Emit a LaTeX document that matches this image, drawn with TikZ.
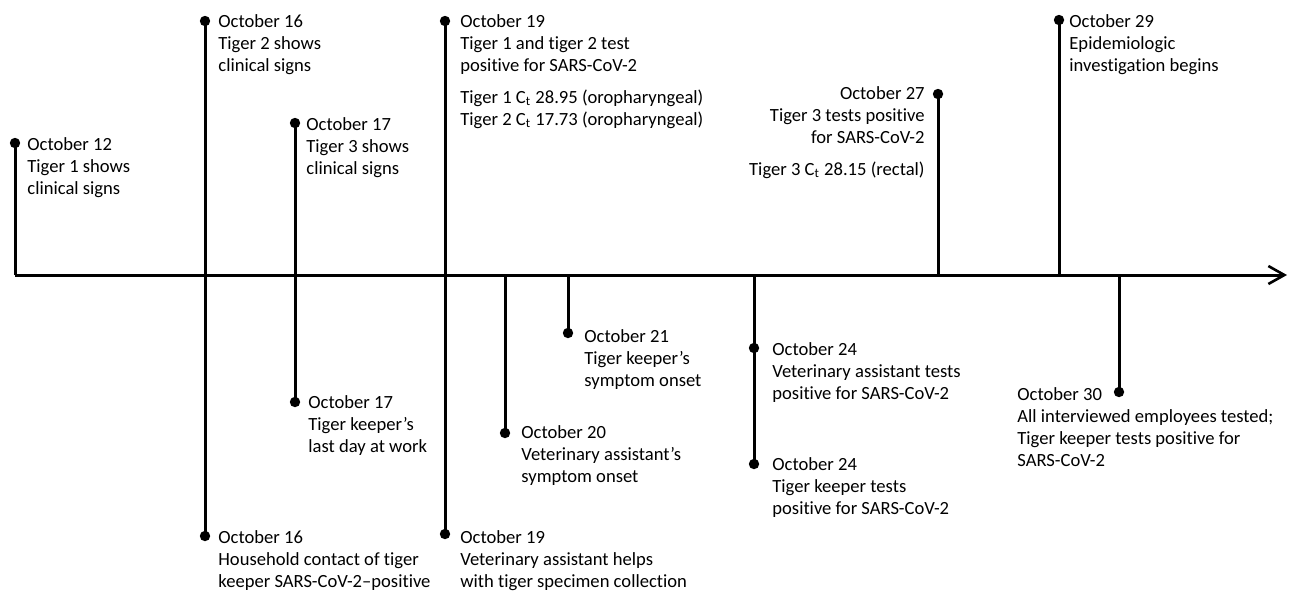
\documentclass[tikz,border=0pt]{standalone}
\usepackage{fontspec}
\setmainfont{Carlito}[Ligatures={NoCommon}]
\usetikzlibrary{arrows.meta}

\begin{document}
\begin{tikzpicture}[x=0.5pt, y=-0.5pt,
    stem/.style={line width=1.5pt, black},
    axis/.style={stem, -{Straight Barb[length=8pt, width=9pt, line width=1.3pt]}},
    dot/.style={circle, fill=black, inner sep=0pt, minimum size=5.2pt},
    evt/.style={align=left, inner sep=0pt, anchor=north west,
                font=\fontsize{9.3}{11}\selectfont},
    evtr/.style={evt, align=right, anchor=north east}
  ]
  \useasboundingbox (0,0) rectangle (1289,591);

  \coordinate (a0) at (15,275);
  \coordinate (aend) at (1287,275);
  \coordinate (a12) at (15,275);
  \coordinate (a20) at (505,275);
  \coordinate (a21) at (568,275);
  \coordinate (a24) at (754,275);
  \coordinate (a27) at (938,275);
  \coordinate (a29) at (1059,275);
  \coordinate (a30) at (1119,275);

  \node[dot] (d12)  at (15,143) {};
  \node[dot] (d16u) at (205,21) {};
  \node[dot] (d16d) at (205,536) {};
  \node[dot] (d17u) at (295,123) {};
  \node[dot] (d17d) at (295,402) {};
  \node[dot] (d19u) at (445,21) {};
  \node[dot] (d19d) at (445,534) {};
  \node[dot] (d20)  at (505,433) {};
  \node[dot] (d21)  at (568,333) {};
  \node[dot] (d24a) at (754,348) {};
  \node[dot] (d24b) at (754,464) {};
  \node[dot] (d27)  at (938,94) {};
  \node[dot] (d29)  at (1059,20) {};
  \node[dot] (d30)  at (1119,392) {};

  \draw[axis] (a0) -- (aend);
  \draw[stem] (a12) -- (d12.center);
  \draw[stem] (d16u.center) -- (d16d.center);
  \draw[stem] (d17u.center) -- (d17d.center);
  \draw[stem] (d19u.center) -- (d19d.center);
  \draw[stem] (a20) -- (d20.center);
  \draw[stem] (a21) -- (d21.center);
  \draw[stem] (a24) -- (d24b.center);
  \draw[stem] (a27) -- (d27.center);
  \draw[stem] (a29) -- (d29.center);
  \draw[stem] (a30) -- (d30.center);

  \node[evt] (t12) at (27,137) {October 12\\Tiger 1 shows\\clinical signs};
  \node[evt] (t16u) at (218,14) {October 16\\Tiger 2 shows\\clinical signs};
  \node[evt] (t17u) at (306,117) {October 17\\Tiger 3 shows\\clinical signs};
  \node[evt] (t19u) at (460,14) {October 19\\Tiger 1 and tiger 2 test\\positive for SARS-CoV-2\\[5pt]
    Tiger 1 C\textsubscript{t} 28.95 (oropharyngeal)\\
    Tiger 2 C\textsubscript{t} 17.73 (oropharyngeal)};
  \node[evtr] (t27) at (925,86) {October 27\\Tiger 3 tests positive\\for SARS-CoV-2\\[5pt]
    Tiger 3 C\textsubscript{t} 28.15 (rectal)};
  \node[evt] (t29) at (1069,14) {October 29\\Epidemiologic\\investigation begins};

  \node[evt] (t16d) at (218,530) {October 16\\Household contact of tiger\\keeper SARS-CoV-2–positive};
  \node[evt] (t17d) at (308,395) {October 17\\Tiger keeper’s\\last day at work};
  \node[evt] (t19d) at (460,530) {October 19\\Veterinary assistant helps\\with tiger specimen collection};
  \node[evt] (t20) at (521,425) {October 20\\Veterinary assistant’s\\symptom onset};
  \node[evt] (t21) at (584,329) {October 21\\Tiger keeper’s\\symptom onset};
  \node[evt] (t24a) at (772,342) {October 24\\Veterinary assistant tests\\positive for SARS-CoV-2};
  \node[evt] (t24b) at (772,457) {October 24\\Tiger keeper tests\\positive for SARS-CoV-2};
  \node[evt] (t30) at (1017,387) {October 30\\All interviewed employees tested;\\Tiger keeper tests positive for\\SARS-CoV-2};
\end{tikzpicture}
\end{document}
